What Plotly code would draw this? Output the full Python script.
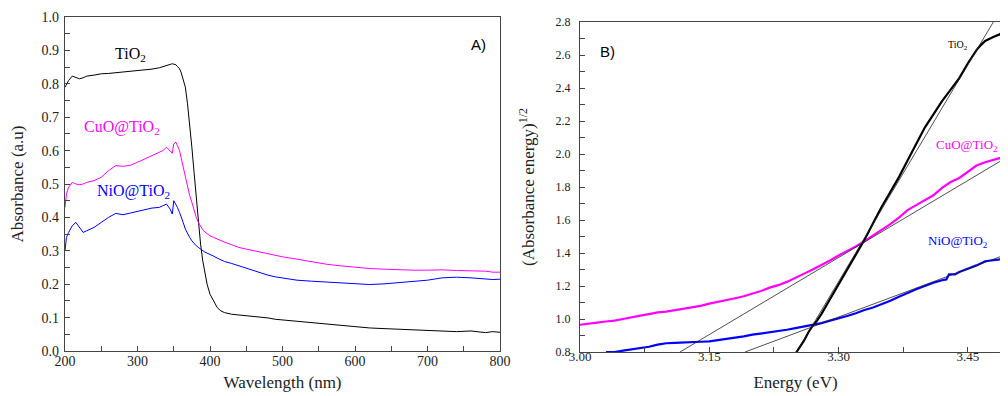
import plotly.graph_objects as go

# ---------------- Panel A data (UV-Vis absorbance) ----------------
wavelength = [200, 202, 205, 210, 215, 220, 225, 230, 240, 250, 260, 270, 280, 290, 300, 310, 320, 330,
              335, 340, 345, 348, 350, 353, 355, 358, 360, 363, 366, 369, 372, 375, 378, 381, 384, 387, 390,
              393, 396, 400, 405, 410, 415, 420, 430, 440, 450, 460, 470, 480, 490, 500,
              520, 540, 560, 580, 600, 620, 640, 660, 680, 700, 720, 740, 760, 780, 790, 800]

abs_tio2 = [0.79, 0.80, 0.81, 0.823, 0.82, 0.815, 0.818, 0.823, 0.826, 0.83, 0.831, 0.833, 0.835, 0.836,
            0.838, 0.842, 0.844, 0.848, 0.852, 0.855, 0.858, 0.86, 0.858, 0.857, 0.852, 0.845, 0.835,
            0.815, 0.79, 0.74, 0.68, 0.61, 0.535, 0.46, 0.39, 0.32, 0.27, 0.23, 0.20, 0.17, 0.15, 0.13,
            0.12, 0.115, 0.11, 0.108, 0.106, 0.104, 0.102, 0.099, 0.095, 0.093,
            0.088, 0.085, 0.08, 0.076, 0.072, 0.069, 0.067, 0.065, 0.064, 0.062, 0.061, 0.058, 0.06,
            0.055, 0.058, 0.056]

abs_cuo = [0.43, 0.47, 0.49, 0.505, 0.50, 0.498, 0.50, 0.505, 0.51, 0.52, 0.54, 0.555, 0.553, 0.556,
           0.565, 0.575, 0.585, 0.595, 0.60, 0.61, 0.60, 0.592, 0.62, 0.625, 0.615, 0.60, 0.58,
           0.55, 0.515, 0.49, 0.465, 0.445, 0.42, 0.40, 0.385, 0.372, 0.363, 0.356, 0.35, 0.345, 0.34,
           0.335, 0.33, 0.326, 0.318, 0.31, 0.305, 0.30, 0.295, 0.29, 0.285, 0.282,
           0.275, 0.267, 0.26, 0.255, 0.25, 0.247, 0.245, 0.243, 0.242, 0.242, 0.243, 0.241, 0.24,
           0.239, 0.236, 0.236]

abs_nio = [0.30, 0.34, 0.355, 0.375, 0.385, 0.37, 0.355, 0.36, 0.37, 0.385, 0.40, 0.412, 0.408, 0.413,
           0.418, 0.422, 0.428, 0.43, 0.435, 0.44, 0.425, 0.41, 0.45, 0.44, 0.43, 0.415, 0.40,
           0.385, 0.365, 0.35, 0.34, 0.33, 0.322, 0.315, 0.31, 0.305, 0.30, 0.296, 0.293, 0.29, 0.284,
           0.278, 0.273, 0.268, 0.262, 0.255, 0.248, 0.24, 0.233, 0.227, 0.222, 0.218,
           0.212, 0.209, 0.206, 0.204, 0.201, 0.199, 0.201, 0.204, 0.207, 0.212, 0.219, 0.221, 0.219,
           0.216, 0.214, 0.215]

# ---------------- Panel B data (Tauc plot) ----------------
e_tio2 = [3.250, 3.255, 3.260, 3.265, 3.270, 3.275, 3.280, 3.290, 3.300, 3.310, 3.320, 3.330, 3.340,
          3.350, 3.360, 3.370, 3.380, 3.390, 3.400, 3.410, 3.420, 3.430, 3.440, 3.450, 3.460, 3.465,
          3.470, 3.480, 3.487, 3.495, 3.500]
t_tio2 = [0.79, 0.83, 0.87, 0.92, 0.96, 0.99, 1.03, 1.12, 1.21, 1.30, 1.39, 1.48, 1.58,
          1.68, 1.77, 1.86, 1.96, 2.06, 2.16, 2.24, 2.32, 2.39, 2.46, 2.55, 2.63, 2.66,
          2.685, 2.71, 2.725, 2.77, 2.80]

e_cuo = [3.000, 3.010, 3.020, 3.030, 3.040, 3.050, 3.060, 3.070, 3.080, 3.090, 3.100, 3.110, 3.120,
         3.130, 3.140, 3.150, 3.160, 3.170, 3.180, 3.190, 3.200, 3.210, 3.220, 3.230, 3.240, 3.250,
         3.260, 3.270, 3.280, 3.290, 3.300, 3.310, 3.320, 3.330, 3.340, 3.350, 3.360, 3.370, 3.380,
         3.390, 3.400, 3.410, 3.420, 3.430, 3.440, 3.450, 3.460, 3.470, 3.480, 3.490, 3.500]
t_cuo = [0.965, 0.97, 0.978, 0.985, 0.99, 1.0, 1.012, 1.02, 1.03, 1.04, 1.045, 1.053, 1.062,
         1.072, 1.08, 1.093, 1.103, 1.112, 1.126, 1.138, 1.153, 1.17, 1.19, 1.205, 1.225, 1.248,
         1.275, 1.30, 1.325, 1.355, 1.385, 1.41, 1.44, 1.472, 1.505, 1.54, 1.575, 1.615, 1.66,
         1.69, 1.72, 1.75, 1.795, 1.83, 1.855, 1.89, 1.93, 1.95, 1.965, 1.98, 2.0]

e_nio = [3.030, 3.040, 3.050, 3.060, 3.070, 3.080, 3.090, 3.100, 3.110, 3.120, 3.130, 3.140, 3.150,
         3.160, 3.170, 3.180, 3.190, 3.200, 3.210, 3.220, 3.230, 3.240, 3.250, 3.260, 3.270, 3.280,
         3.290, 3.300, 3.310, 3.320, 3.330, 3.340, 3.350, 3.360, 3.370, 3.380, 3.390, 3.400, 3.410,
         3.420, 3.425, 3.428, 3.435, 3.440, 3.450, 3.460, 3.470, 3.480, 3.490, 3.500]
t_nio = [0.80, 0.80, 0.808, 0.815, 0.822, 0.832, 0.845, 0.853, 0.855, 0.856, 0.858, 0.862, 0.865,
         0.872, 0.88, 0.888, 0.895, 0.905, 0.912, 0.92, 0.928, 0.935, 0.945, 0.955, 0.962, 0.975,
         0.99, 1.003, 1.018, 1.035, 1.055, 1.07, 1.09, 1.11, 1.135, 1.16, 1.18, 1.2, 1.22,
         1.235, 1.24, 1.27, 1.27, 1.285, 1.305, 1.325, 1.35, 1.358, 1.365, 1.37]

# Linear extrapolation lines (end points)
fit_tio2_x = [3.2513, 3.4795]
fit_tio2_y = [0.80, 2.80]
fit_cuo_x = [3.116, 3.500]
fit_cuo_y = [0.80, 1.995]
fit_nio_x = [3.1914, 3.500]
fit_nio_y = [0.80, 1.402]

BLACK = "#000000"
MAGENTA = "#ff00ff"
BLUE = "#0000ff"
SERIF = "Times New Roman"
SANS = "Arial"

fig = go.Figure()

# Panel A
fig.add_trace(go.Scatter(x=wavelength, y=abs_tio2, mode="lines", line=dict(color=BLACK, width=1),
                         xaxis="x", yaxis="y", showlegend=False))
fig.add_trace(go.Scatter(x=wavelength, y=abs_cuo, mode="lines", line=dict(color=MAGENTA, width=1),
                         xaxis="x", yaxis="y", showlegend=False))
fig.add_trace(go.Scatter(x=wavelength, y=abs_nio, mode="lines", line=dict(color=BLUE, width=1),
                         xaxis="x", yaxis="y", showlegend=False))

# Panel B
fig.add_trace(go.Scatter(x=e_cuo, y=t_cuo, mode="lines", line=dict(color=MAGENTA, width=2.2),
                         xaxis="x2", yaxis="y2", showlegend=False))
fig.add_trace(go.Scatter(x=e_nio, y=t_nio, mode="lines", line=dict(color=BLUE, width=2.2),
                         xaxis="x2", yaxis="y2", showlegend=False))
fig.add_trace(go.Scatter(x=e_tio2, y=t_tio2, mode="lines", line=dict(color=BLACK, width=2.2),
                         xaxis="x2", yaxis="y2", showlegend=False))
for fx, fy in [(fit_tio2_x, fit_tio2_y), (fit_cuo_x, fit_cuo_y), (fit_nio_x, fit_nio_y)]:
    fig.add_trace(go.Scatter(x=fx, y=fy, mode="lines", line=dict(color="#222222", width=0.8),
                             xaxis="x2", yaxis="y2", showlegend=False))

W, H = 1008, 396
axcommon = dict(showline=True, mirror=True, linecolor="#444444", linewidth=1.3, ticks="inside",
                tickcolor="#444444", ticklen=5, showgrid=False, zeroline=False,
                automargin=False)

fig.update_layout(
    width=W, height=H,
    margin=dict(l=0, r=0, t=0, b=0),
    paper_bgcolor="white", plot_bgcolor="white",
    font=dict(family=SERIF, color="#222222", size=14),
    xaxis=dict(domain=[57 / W, 492 / W], anchor="y", range=[200, 800], dtick=100, tick0=200,
               minor=dict(ticks="inside", ticklen=5, dtick=50, tickcolor="#444444"),
               tickfont=dict(size=14, family=SERIF, color="#222222"), ticklabelstandoff=-3,
               title=dict(text="Wavelength (nm)", font=dict(size=17, family=SERIF, color="#222222"),
                          standoff=8),
               **axcommon),
    yaxis=dict(domain=[1 - 343 / H, 1 - 9 / H], anchor="x", range=[0, 1.0], dtick=0.1, tick0=0,
               tickformat=".1f",
               minor=dict(ticks="inside", ticklen=5, dtick=0.05, tickcolor="#444444"),
               tickfont=dict(size=14, family=SERIF, color="#222222"), ticklabelstandoff=2,
               title=dict(text="Absorbance (a.u)", font=dict(size=17, family=SERIF, color="#222222"),
                          standoff=20),
               **axcommon),
    xaxis2=dict(domain=[572 / W, 1003 / W], anchor="y2", range=[3.0, 3.5], dtick=0.15, tick0=3.0,
                tickformat=".2f",
                minor=dict(ticks="inside", ticklen=5, dtick=0.075, tickcolor="#444444"),
                tickfont=dict(size=13, family=SERIF, color="#222222"), ticklabelstandoff=-8,
                title=dict(text="Energy (eV)", font=dict(size=17, family=SERIF, color="#222222"),
                           standoff=13),
                **axcommon),
    yaxis2=dict(domain=[1 - 344 / H, 1 - 14 / H], anchor="x2", range=[0.8, 2.8], dtick=0.2, tick0=0.8,
                tickformat=".1f",
                minor=dict(ticks="inside", ticklen=5, dtick=0.1, tickcolor="#444444"),
                tickfont=dict(size=12, family=SERIF, color="#222222"), ticklabelstandoff=6,
                title=dict(text="(Absorbance energy)<sup>1/2</sup>",
                           font=dict(size=17, family=SERIF, color="#222222"), standoff=16),
                **axcommon),
    annotations=[
        dict(x=290, y=0.888, xref="x", yref="y", text="TiO<sub>2</sub>", showarrow=False,
             font=dict(size=16, color=BLACK, family=SERIF)),
        dict(x=279, y=0.67, xref="x", yref="y", text="CuO@TiO<sub>2</sub>", showarrow=False,
             font=dict(size=16, color=MAGENTA, family=SERIF)),
        dict(x=294, y=0.477, xref="x", yref="y", text="NiO@TiO<sub>2</sub>", showarrow=False,
             font=dict(size=16, color=BLUE, family=SERIF)),
        dict(x=470 / W, y=1 - 26 / H, xref="paper", yref="paper", text="A)", showarrow=False,
             font=dict(size=15, color=BLACK, family=SANS)),
        dict(x=3.439, y=2.66, xref="x2", yref="y2", text="TiO<sub>2</sub>", showarrow=False,
             font=dict(size=10, color=BLACK, family=SERIF)),
        dict(x=3.449, y=2.05, xref="x2", yref="y2", text="CuO@TiO<sub>2</sub>", showarrow=False,
             font=dict(size=13, color=MAGENTA, family=SERIF)),
        dict(x=3.439, y=1.47, xref="x2", yref="y2", text="NiO@TiO<sub>2</sub>", showarrow=False,
             font=dict(size=13, color=BLUE, family=SERIF)),
        dict(x=599 / W, y=1 - 33 / H, xref="paper", yref="paper", text="B)", showarrow=False,
             font=dict(size=15, color=BLACK, family=SANS)),
    ],
)

fig.write_html("out.html")
